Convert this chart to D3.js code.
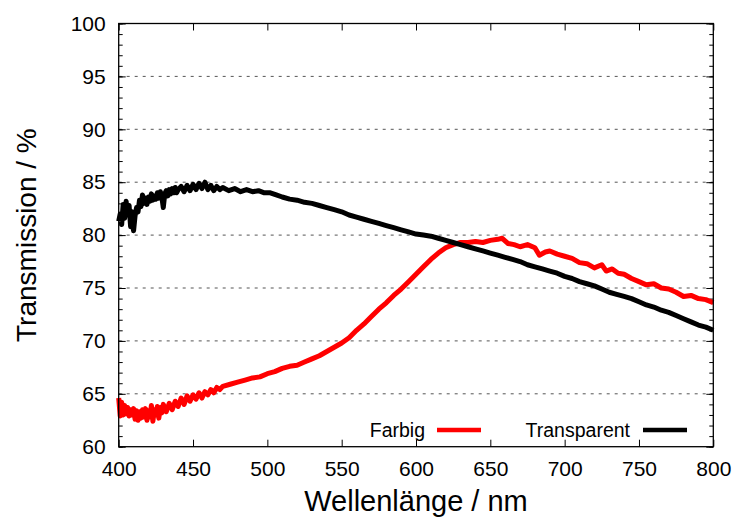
<!DOCTYPE html>
<html>
<head>
<meta charset="utf-8">
<script src="https://cdn.jsdelivr.net/npm/d3@7"></script>
<style>
  body { margin: 0; background: #fff; }
  text { font-family: "Liberation Sans", Arial, sans-serif; fill: #000; }
</style>
</head>
<body>
<div id="chart"></div>
<script>
// wavelength (nm) and transmission (%)
var farbigWl = [400,401,402,403,404,405,406,407,408,409,410,411,412,413,414,415,416,417,418,419,
  420,421,422,423,424,425,426,427,428,429,430,432,434,436,438,440,442,444,446,448,
  450,452,454,456,458,460,462,464,466,468,470,475,480,485,490,495,500,505,510,515,
  520,525,530,535,540,545,550,555,560,565,570,575,580,585,590,595,600,605,610,615,
  620,625,630,635,640,645,650,655,658,662,666,670,675,680,683,687,690,695,700,705,
  710,715,720,725,728,732,736,740,745,750,755,760,765,770,775,780,785,790,795,800];
var farbigT = [64.6,62.9,64.2,63.0,63.9,63.1,63.7,62.9,63.5,63.0,63.6,62.6,63.4,62.5,63.3,62.7,63.5,62.8,63.6,62.5,
  63.4,62.8,63.9,62.4,63.5,63.0,63.8,62.7,63.7,63.2,64.0,63.3,64.1,63.5,64.3,63.8,64.6,64.0,64.8,64.3,
  64.9,64.5,65.1,64.6,65.2,64.9,65.4,65.1,65.6,65.4,65.7,65.9,66.1,66.3,66.5,66.6,66.9,67.1,67.4,67.6,
  67.7,68.0,68.3,68.6,69.0,69.4,69.8,70.3,71.0,71.6,72.3,73.0,73.6,74.3,74.9,75.6,76.3,77.0,77.7,78.3,
  78.8,79.1,79.3,79.3,79.4,79.3,79.5,79.6,79.7,79.2,79.1,78.9,79.1,78.8,78.1,78.4,78.5,78.2,78.0,77.8,
  77.4,77.3,76.9,77.2,76.6,76.8,76.4,76.3,75.9,75.6,75.3,75.4,75.0,74.9,74.6,74.2,74.3,74.0,73.9,73.6];

var transpWl = [400,401,402,403,404,405,406,407,408,409,410,411,412,413,414,415,416,417,418,419,
  420,421,422,423,424,425,426,427,428,429,430,431,432,433,434,435,436,437,438,439,
  440,442,444,446,448,450,452,454,456,458,460,462,464,466,468,470,474,478,482,486,
  490,494,498,502,506,510,515,520,525,530,535,540,545,550,555,560,565,570,575,580,
  585,590,595,600,605,610,615,620,625,630,635,640,645,650,655,660,665,670,675,680,
  685,690,695,700,705,710,715,720,725,730,735,740,745,750,755,760,765,770,775,780,
  785,790,795,800];
var transpT = [81.3,82.0,81.0,82.9,81.6,83.2,81.9,82.8,80.8,82.2,80.4,81.8,82.6,82.2,83.3,82.7,83.8,83.0,83.5,82.9,
  83.6,83.2,83.9,83.3,83.7,83.4,84.0,83.5,84.1,83.6,82.6,83.9,84.2,83.7,84.3,83.9,84.4,84.0,84.5,84.0,
  84.3,84.6,84.1,84.7,84.2,84.8,84.3,84.9,84.4,85.0,84.3,84.7,84.2,84.6,84.3,84.5,84.2,84.4,84.1,84.3,
  84.1,84.2,84.0,84.0,83.8,83.6,83.4,83.3,83.1,83.0,82.8,82.6,82.4,82.2,81.9,81.7,81.5,81.3,81.1,80.9,
  80.7,80.5,80.3,80.1,80.0,79.9,79.7,79.5,79.3,79.1,78.9,78.7,78.5,78.3,78.1,77.9,77.7,77.5,77.2,77.0,
  76.8,76.6,76.4,76.1,75.9,75.6,75.4,75.2,74.9,74.6,74.4,74.2,74.0,73.7,73.4,73.2,72.9,72.7,72.4,72.1,
  71.8,71.5,71.3,71.0];

var xTicks = [400,450,500,550,600,650,700,750,800];
var yTicks = [60,65,70,75,80,85,90,95,100];
var yMinor = d3.range(60, 101, 1);
var seriesNames = ["Farbig", "Transparent"];
var seriesColors = ["#ff0000", "#000000"];

var W = 738, H = 517;
var margin = {top: 23.5, right: 24.7, bottom: 70.3, left: 118.7},
    width = W - margin.left - margin.right,
    height = H - margin.top - margin.bottom;

var svg = d3.select("#chart").append("svg")
    .attr("width", W).attr("height", H);
var g = svg.append("g")
    .attr("transform", "translate(" + margin.left + "," + margin.top + ")");

var x = d3.scaleLinear().domain([400, 800]).range([0, width]);
var y = d3.scaleLinear().domain([60, 100]).range([height, 0]);

// dashed grid
g.append("g").selectAll("line")
    .data(yTicks.slice(1, -1)).enter().append("line")
    .attr("x1", 0).attr("x2", width)
    .attr("y1", function(d){ return y(d); }).attr("y2", function(d){ return y(d); })
    .attr("stroke", "#555").attr("stroke-width", 1).attr("stroke-dasharray", "3,5");

// axes (ticks pointing inward)
g.append("g").attr("transform", "translate(0," + height + ")")
    .call(d3.axisBottom(x).tickValues(xTicks).tickSizeInner(-7).tickSizeOuter(0).tickPadding(14));
g.append("g")
    .call(d3.axisTop(x).tickValues(xTicks).tickSizeInner(-7).tickSizeOuter(0).tickFormat(""));
g.append("g")
    .call(d3.axisLeft(y).tickValues(yTicks).tickSizeInner(-7).tickSizeOuter(0).tickPadding(13));
g.append("g").attr("transform", "translate(" + width + ",0)")
    .call(d3.axisRight(y).tickValues(yTicks).tickSizeInner(-7).tickSizeOuter(0).tickFormat(""));
g.append("g").call(d3.axisLeft(y).tickValues(yMinor).tickSize(-4).tickFormat(""));
g.append("g").attr("transform", "translate(" + width + ",0)")
    .call(d3.axisRight(y).tickValues(yMinor).tickSize(-4).tickFormat(""));

g.selectAll(".domain").remove();
g.selectAll(".tick line").attr("stroke", "#000");
g.selectAll(".tick text").style("font-family", "'Liberation Sans', Arial, sans-serif")
    .style("font-size", "21px").attr("fill", "#000");

// curves
var line = d3.line()
    .x(function(d){ return x(d[0]); })
    .y(function(d){ return y(d[1]); });
var farbig = d3.zip(farbigWl, farbigT);
var transp = d3.zip(transpWl, transpT);

g.append("path").datum(farbig)
    .attr("d", line).attr("fill", "none")
    .attr("stroke", seriesColors[0]).attr("stroke-width", 5).attr("stroke-linejoin", "round");
g.append("path").datum(transp)
    .attr("d", line).attr("fill", "none")
    .attr("stroke", seriesColors[1]).attr("stroke-width", 5).attr("stroke-linejoin", "round");

// frame
g.append("rect").attr("width", width).attr("height", height)
    .attr("fill", "none").attr("stroke", "#000").attr("stroke-width", 1.3);

// legend
var legendEnds = [425, 630];
var legendLines = [[437, 481], [643, 687]];
for (var i = 0; i < 2; i++) {
    svg.append("text").attr("x", legendEnds[i]).attr("y", 437)
        .attr("text-anchor", "end").style("font-size", "19.5px").text(seriesNames[i]);
    svg.append("line").attr("x1", legendLines[i][0]).attr("x2", legendLines[i][1])
        .attr("y1", 430).attr("y2", 430)
        .attr("stroke", seriesColors[i]).attr("stroke-width", 4.5);
}

// axis titles
svg.append("text").attr("x", margin.left + width / 2).attr("y", 511)
    .attr("text-anchor", "middle").style("font-size", "29px").text("Wellenlänge / nm");
svg.append("text")
    .attr("transform", "translate(36," + (margin.top + height / 2) + ") rotate(-90)")
    .attr("text-anchor", "middle").style("font-size", "28px").text("Transmission / %");
</script>
</body>
</html>
